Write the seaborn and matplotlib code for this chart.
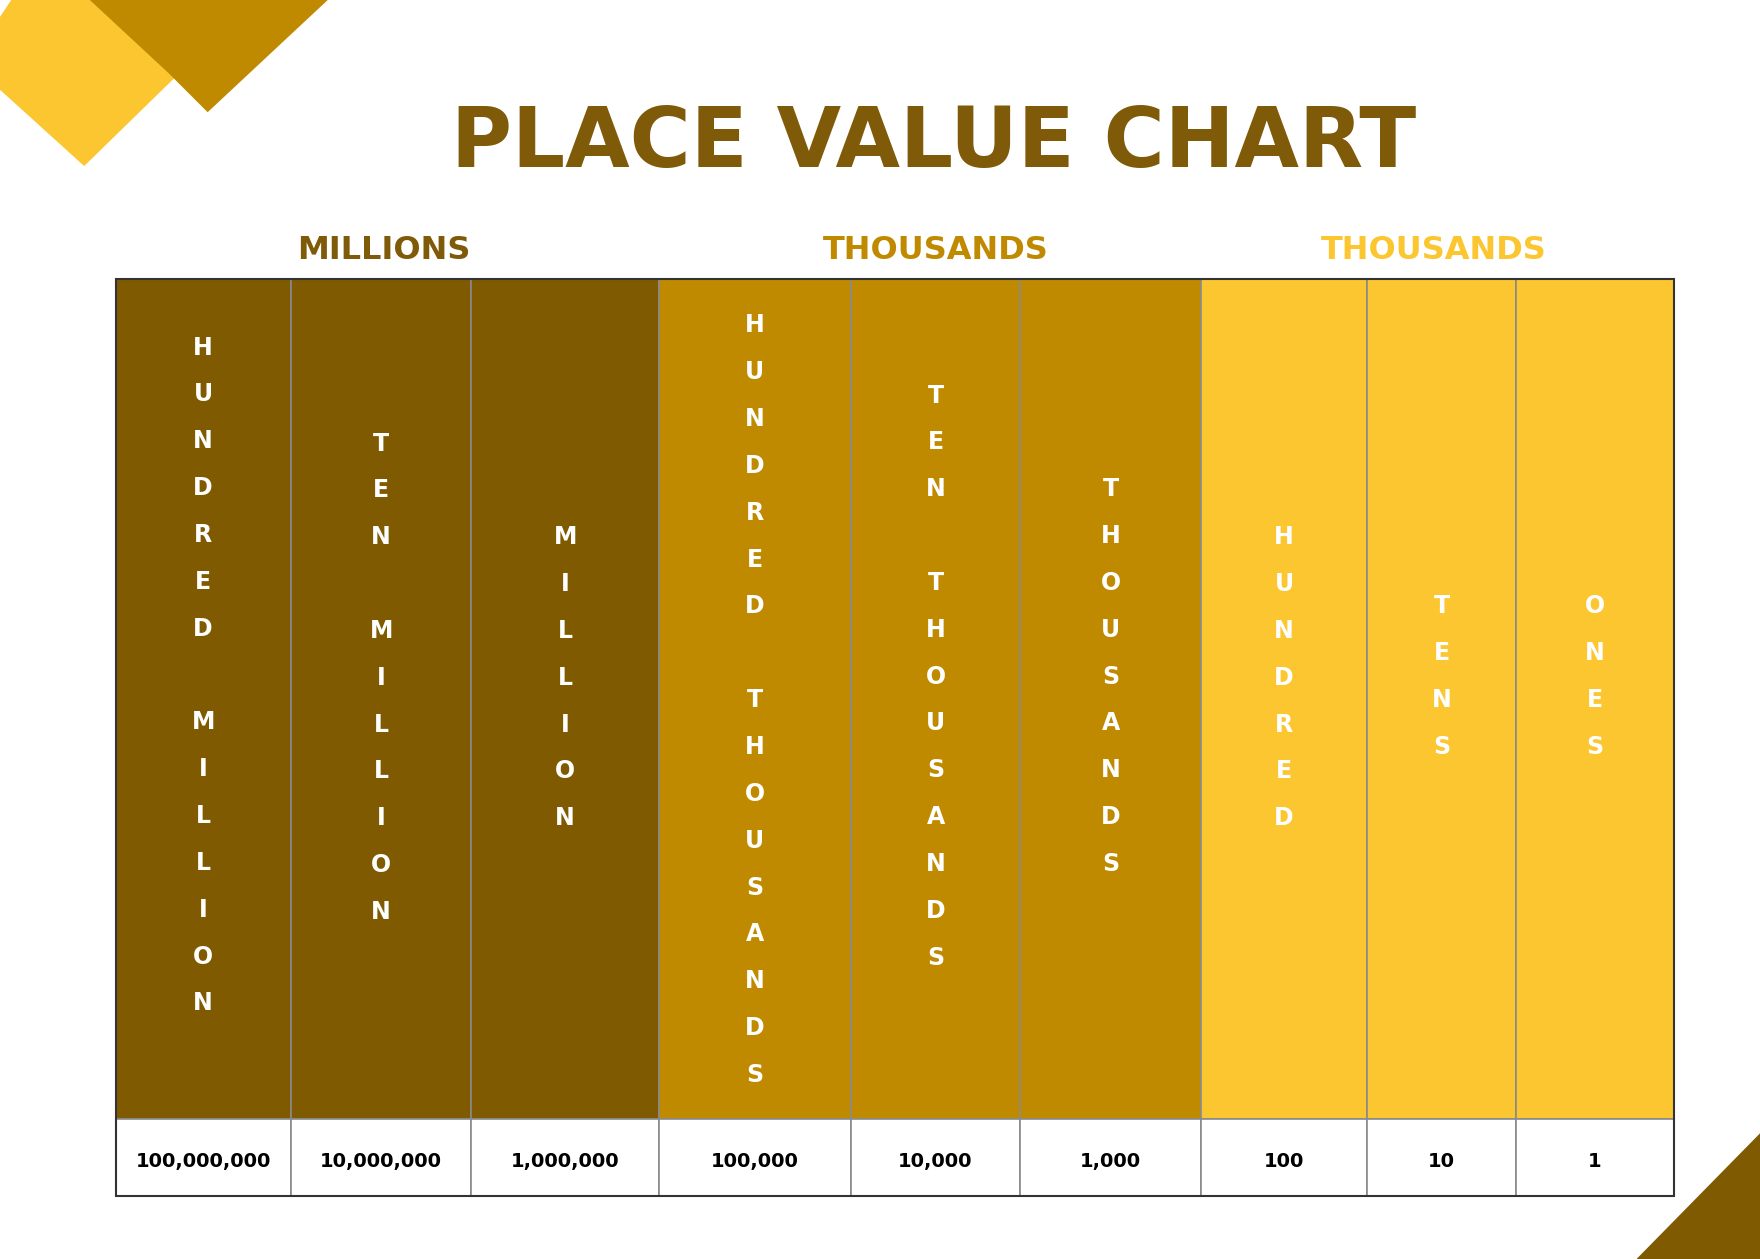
import matplotlib
matplotlib.use("Agg")
import matplotlib.pyplot as plt
import seaborn as sns
from matplotlib.patches import Polygon

sns.set_theme(style="white")
plt.rcParams['font.family'] = ['DejaVu Sans']

# data
place_names = ["HUNDRED MILLION", "TEN MILLION", "MILLION", "HUNDRED THOUSANDS",
               "TEN THOUSANDS", "THOUSANDS", "HUNDRED", "TENS", "ONES"]
place_values = ["100,000,000", "10,000,000", "1,000,000", "100,000", "10,000",
                "1,000", "100", "10", "1"]
groups = ["MILLIONS", "THOUSANDS", "THOUSANDS"]

# layout (reference pixel space 1568 x 1122)
edges = [103, 259, 420, 587, 758, 909, 1070, 1218, 1351, 1491]
centers_y = [602, 604, 604, 624, 603, 603, 604, 603, 603]
dark, mid, light = "#7F5A00", "#C08A00", "#FCC631"
col_colors = [dark]*3 + [mid]*3 + [light]*3
group_colors = ["#7F5A08", "#C08A00", "#FCC631"]
group_x = [342, 834, 1277]
top, cbot, bot = 249, 997, 1066

fig = plt.figure(figsize=(17.6, 12.59), dpi=100)
ax = fig.add_axes([0, 0, 1, 1])
ax.set_xlim(0, 1568)
ax.set_ylim(1122, 0)
ax.axis("off")

# decorations
ax.add_patch(Polygon([(0, 15), (0, 80), (75, 148), (160, 65), (95, 0), (10, 0)], color="#FCC631", lw=0))
ax.add_patch(Polygon([(80, 0), (292, 0), (185, 100), (150, 65)], color="#C08A00", lw=0))
ax.add_patch(Polygon([(1458, 1122), (1568, 1010), (1568, 1122)], color="#7F5A00", lw=0))

ax.text(832, 128, "PLACE VALUE CHART", ha="center", va="center",
        fontsize=60, fontweight="heavy", color="#7F5A08")
for g, x, c in zip(groups, group_x, group_colors):
    ax.text(x, 223, g, ha="center", va="center", fontsize=23, fontweight="bold", color=c)

lefts = edges[:-1]
widths = [edges[i+1]-edges[i] for i in range(len(lefts))]
ax.bar(lefts, [cbot-top]*9, width=widths, bottom=top, align="edge",
       color=col_colors, edgecolor="#8a8a8a", linewidth=1.2)
ax.bar(lefts, [bot-cbot]*9, width=widths, bottom=cbot, align="edge",
       color="white", edgecolor="#8a8a8a", linewidth=1.2)
ax.add_patch(plt.Rectangle((edges[0], top), edges[-1]-edges[0], bot-top,
                           fill=False, edgecolor="#333333", lw=1.5))

step = 41.75
for i, name in enumerate(place_names):
    cx = (edges[i] + edges[i+1]) / 2
    n = len(name)
    y0 = centers_y[i] - step*(n-1)/2
    for k, ch in enumerate(name):
        if ch != " ":
            ax.text(cx, y0 + k*step, ch, ha="center", va="center",
                    fontsize=17, fontweight="bold", color="white")
    ax.text(cx, 1035, place_values[i], ha="center", va="center",
            fontsize=14, fontweight="bold", color="black")

fig.savefig("out.png", dpi=100)
